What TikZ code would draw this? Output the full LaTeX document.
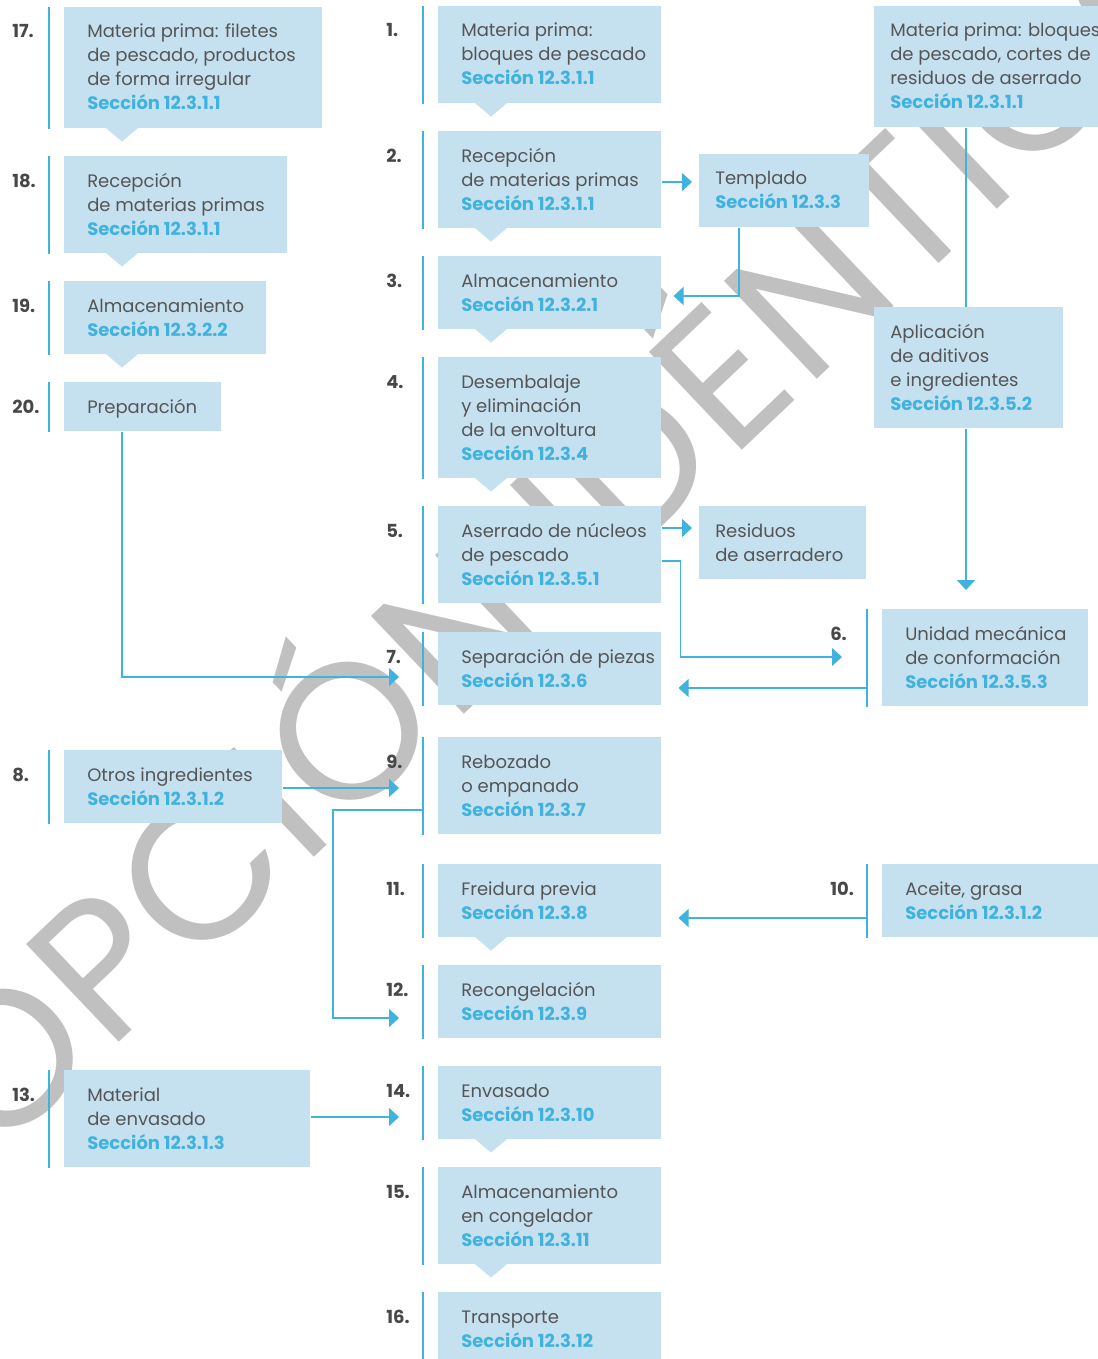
\documentclass[tikz,border=0pt]{standalone}
\usepackage{fontspec}
\setmainfont{Poppins}
\newfontfamily\wmfont[LetterSpace=2]{Poppins}
\usetikzlibrary{calc,arrows.meta}

\definecolor{boxfill}{RGB}{197,225,240}
\definecolor{linec}{RGB}{64,178,222}
\definecolor{txtgray}{RGB}{85,85,85}
\definecolor{numgray}{RGB}{72,72,72}
\definecolor{wmgray}{RGB}{192,192,192}

\newlength\px
\setlength\px{0.75pt}

\newcommand\sect[1]{\textcolor{linec}{\bfseries Secci\'on #1}}
\newcommand\lns[1]{\begin{tabular}[t]{@{}l@{}}#1\end{tabular}}

% numbered process step: name, number, left, top, width, height, text
\newcommand\numstep[7]{%
  \node[procbox, minimum width=#5\px, minimum height=#6\px] (#1) at (#3,#4) {};
  \draw[bar] ($(#1.north west)+(-15,0)$) -- ($(#1.south west)+(-15,0)$);
  \node[num] (#1n) at ($(#1.north west)+(-52,31)$) {#2};
  \node[txt] (#1t) at ($(#1.north west)+(23,31)$) {\lns{#7}};
}
% side box without number: name, left, top, width, height, text
\newcommand\sidebox[6]{%
  \node[procbox, minimum width=#4\px, minimum height=#5\px] (#1) at (#2,#3) {};
  \node[txt] (#1t) at ($(#1.north west)+(16,31)$) {\lns{#6}};
}
% downward pointer under a box: name, offset of tip from left edge
\newcommand\pointer[2]{%
  \fill[boxfill] ($(#1.south west)+(#2-16,-0.5)$) -- ++(32,0) -- ++(-16,13.5) -- cycle;
}

\begin{document}
\begin{tikzpicture}[x=0.75pt,y=-0.75pt,
  procbox/.style={rectangle, fill=boxfill, draw=none, inner sep=0pt, anchor=north west},
  txt/.style={anchor=base west, inner sep=0pt, text=txtgray,
    font=\fontsize{13.5pt}{18pt}\selectfont},
  num/.style={anchor=base west, inner sep=0pt, text=numgray,
    font=\fontsize{13.5pt}{18pt}\selectfont\bfseries},
  bar/.style={draw=linec, line width=2.1pt},
  conn/.style={draw=linec, line width=1.1pt},
  arr/.style={conn, -{Triangle[length=7.5pt, width=13.5pt]}},
  wm/.style={text=wmgray, inner sep=0pt,
    font=\wmfont\fontsize{145pt}{145pt}\selectfont}
]
\useasboundingbox (0,0) rectangle (1097,1359);
\fill[white] (0,0) rectangle (1097,1359);

% watermark behind everything
\node[wm, rotate=43.5, anchor=base west] (wm) at (-5,1160) {OPCIÓN IDÉNTICO};

% left column
\numstep{s17}{17.}{64}{7}{258}{121}{Materia prima: filetes\\de pescado, productos\\de forma irregular\\\sect{12.3.1.1}}
\numstep{s18}{18.}{64}{156}{223}{97}{Recepción\\de materias primas\\\sect{12.3.1.1}}
\numstep{s19}{19.}{64}{281}{202}{73}{Almacenamiento\\\sect{12.3.2.2}}
\numstep{s20}{20.}{64}{382}{157}{49}{Preparación}
\numstep{s8}{8.}{64}{750}{218}{73}{Otros ingredientes\\\sect{12.3.1.2}}
\numstep{s13}{13.}{64}{1070}{246}{97}{Material\\de envasado\\\sect{12.3.1.3}}
\pointer{s17}{58}
\pointer{s18}{58}
\pointer{s19}{58}

% main column
\numstep{s1}{1.}{438}{6}{223}{97}{Materia prima:\\bloques de pescado\\\sect{12.3.1.1}}
\numstep{s2}{2.}{438}{131}{223}{97}{Recepción\\de materias primas\\\sect{12.3.1.1}}
\numstep{s3}{3.}{438}{256}{223}{73}{Almacenamiento\\\sect{12.3.2.1}}
\numstep{s4}{4.}{438}{357}{223}{121}{Desembalaje\\y eliminación\\de la envoltura\\\sect{12.3.4}}
\numstep{s5}{5.}{438}{506}{223}{97}{Aserrado de núcleos\\de pescado\\\sect{12.3.5.1}}
\numstep{s7}{7.}{438}{632}{223}{73}{Separación de piezas\\\sect{12.3.6}}
\numstep{s9}{9.}{438}{737}{223}{97}{Rebozado\\o empanado\\\sect{12.3.7}}
\numstep{s11}{11.}{438}{864}{223}{73}{Freidura previa\\\sect{12.3.8}}
\numstep{s12}{12.}{438}{965}{223}{73}{Recongelación\\\sect{12.3.9}}
\numstep{s14}{14.}{438}{1066}{223}{73}{Envasado\\\sect{12.3.10}}
\numstep{s15}{15.}{438}{1167}{223}{97}{Almacenamiento\\en congelador\\\sect{12.3.11}}
\numstep{s16}{16.}{438}{1292}{223}{73}{Transporte\\\sect{12.3.12}}
\pointer{s1}{53}
\pointer{s2}{53}
\pointer{s3}{53}
\pointer{s4}{53}
\pointer{s11}{53}
\pointer{s14}{53}
\pointer{s15}{53}

% right side
\sidebox{templ}{699}{154}{170}{73}{Templado\\\sect{12.3.3}}
\sidebox{rawb}{874}{6}{240}{121}{Materia prima: bloques\\de pescado, cortes de\\residuos de aserrado\\\sect{12.3.1.1}}
\sidebox{aplic}{874}{307}{189}{121}{Aplicación\\de aditivos\\e ingredientes\\\sect{12.3.5.2}}
\sidebox{resid}{699}{506}{167}{73}{Residuos\\de aserradero}
\numstep{s6}{6.}{882}{609}{206}{97}{Unidad mecánica\\de conformación\\\sect{12.3.5.3}}
\numstep{s10}{10.}{882}{864}{230}{73}{Aceite, grasa\\\sect{12.3.1.2}}

% connectors
\coordinate (c2) at ($(s2.north east)+(0,51)$);
\draw[arr, shorten >=5.25pt] (c2) -- (c2 -| templ.west);
\draw[arr, shorten >=9pt] ($(templ.south west)+(40,0)$) |- ($(s3.north east)+(0,40)$);
\draw[conn] ($(rawb.south west)+(92,0)$) -- ($(aplic.north west)+(92,0)$);
\coordinate (ca) at ($(aplic.south west)+(92,0)$);
\draw[arr, shorten >=14.25pt] (ca) -- (ca |- s6.north);
\coordinate (c5r) at ($(s5.north east)+(0,22)$);
\draw[arr, shorten >=5.25pt] (c5r) -- (c5r -| resid.west);
\draw[arr] ($(s5.north east)+(0,55)$) -- ++(19,0) |- ($(s6.north west)+(-40,48)$);
\coordinate (c6) at ($(s6.north west)+(-15,79)$);
\draw[arr, shorten >=12.75pt] (c6) -- (c6 -| s7.east);
\draw[arr] ($(s20.south west)+(58,0)$) |- ($(s7.north west)+(-39,45)$);
\coordinate (c8) at ($(s8.north east)+(0,38)$);
\draw[arr, shorten >=29.25pt] (c8) -- (c8 -| s9.west);
\draw[arr] ($(s9.north west)+(-15,73)$) -- ++(-90,0) |- ($(s12.north west)+(-39,53)$);
\coordinate (c10) at ($(s10.north west)+(-15,54)$);
\draw[arr, shorten >=12.75pt] (c10) -- (c10 -| s11.east);
\coordinate (c13) at ($(s13.north east)+(0,47)$);
\draw[arr, shorten >=29.25pt] (c13) -- (c13 -| s14.west);
\end{tikzpicture}
\end{document}
